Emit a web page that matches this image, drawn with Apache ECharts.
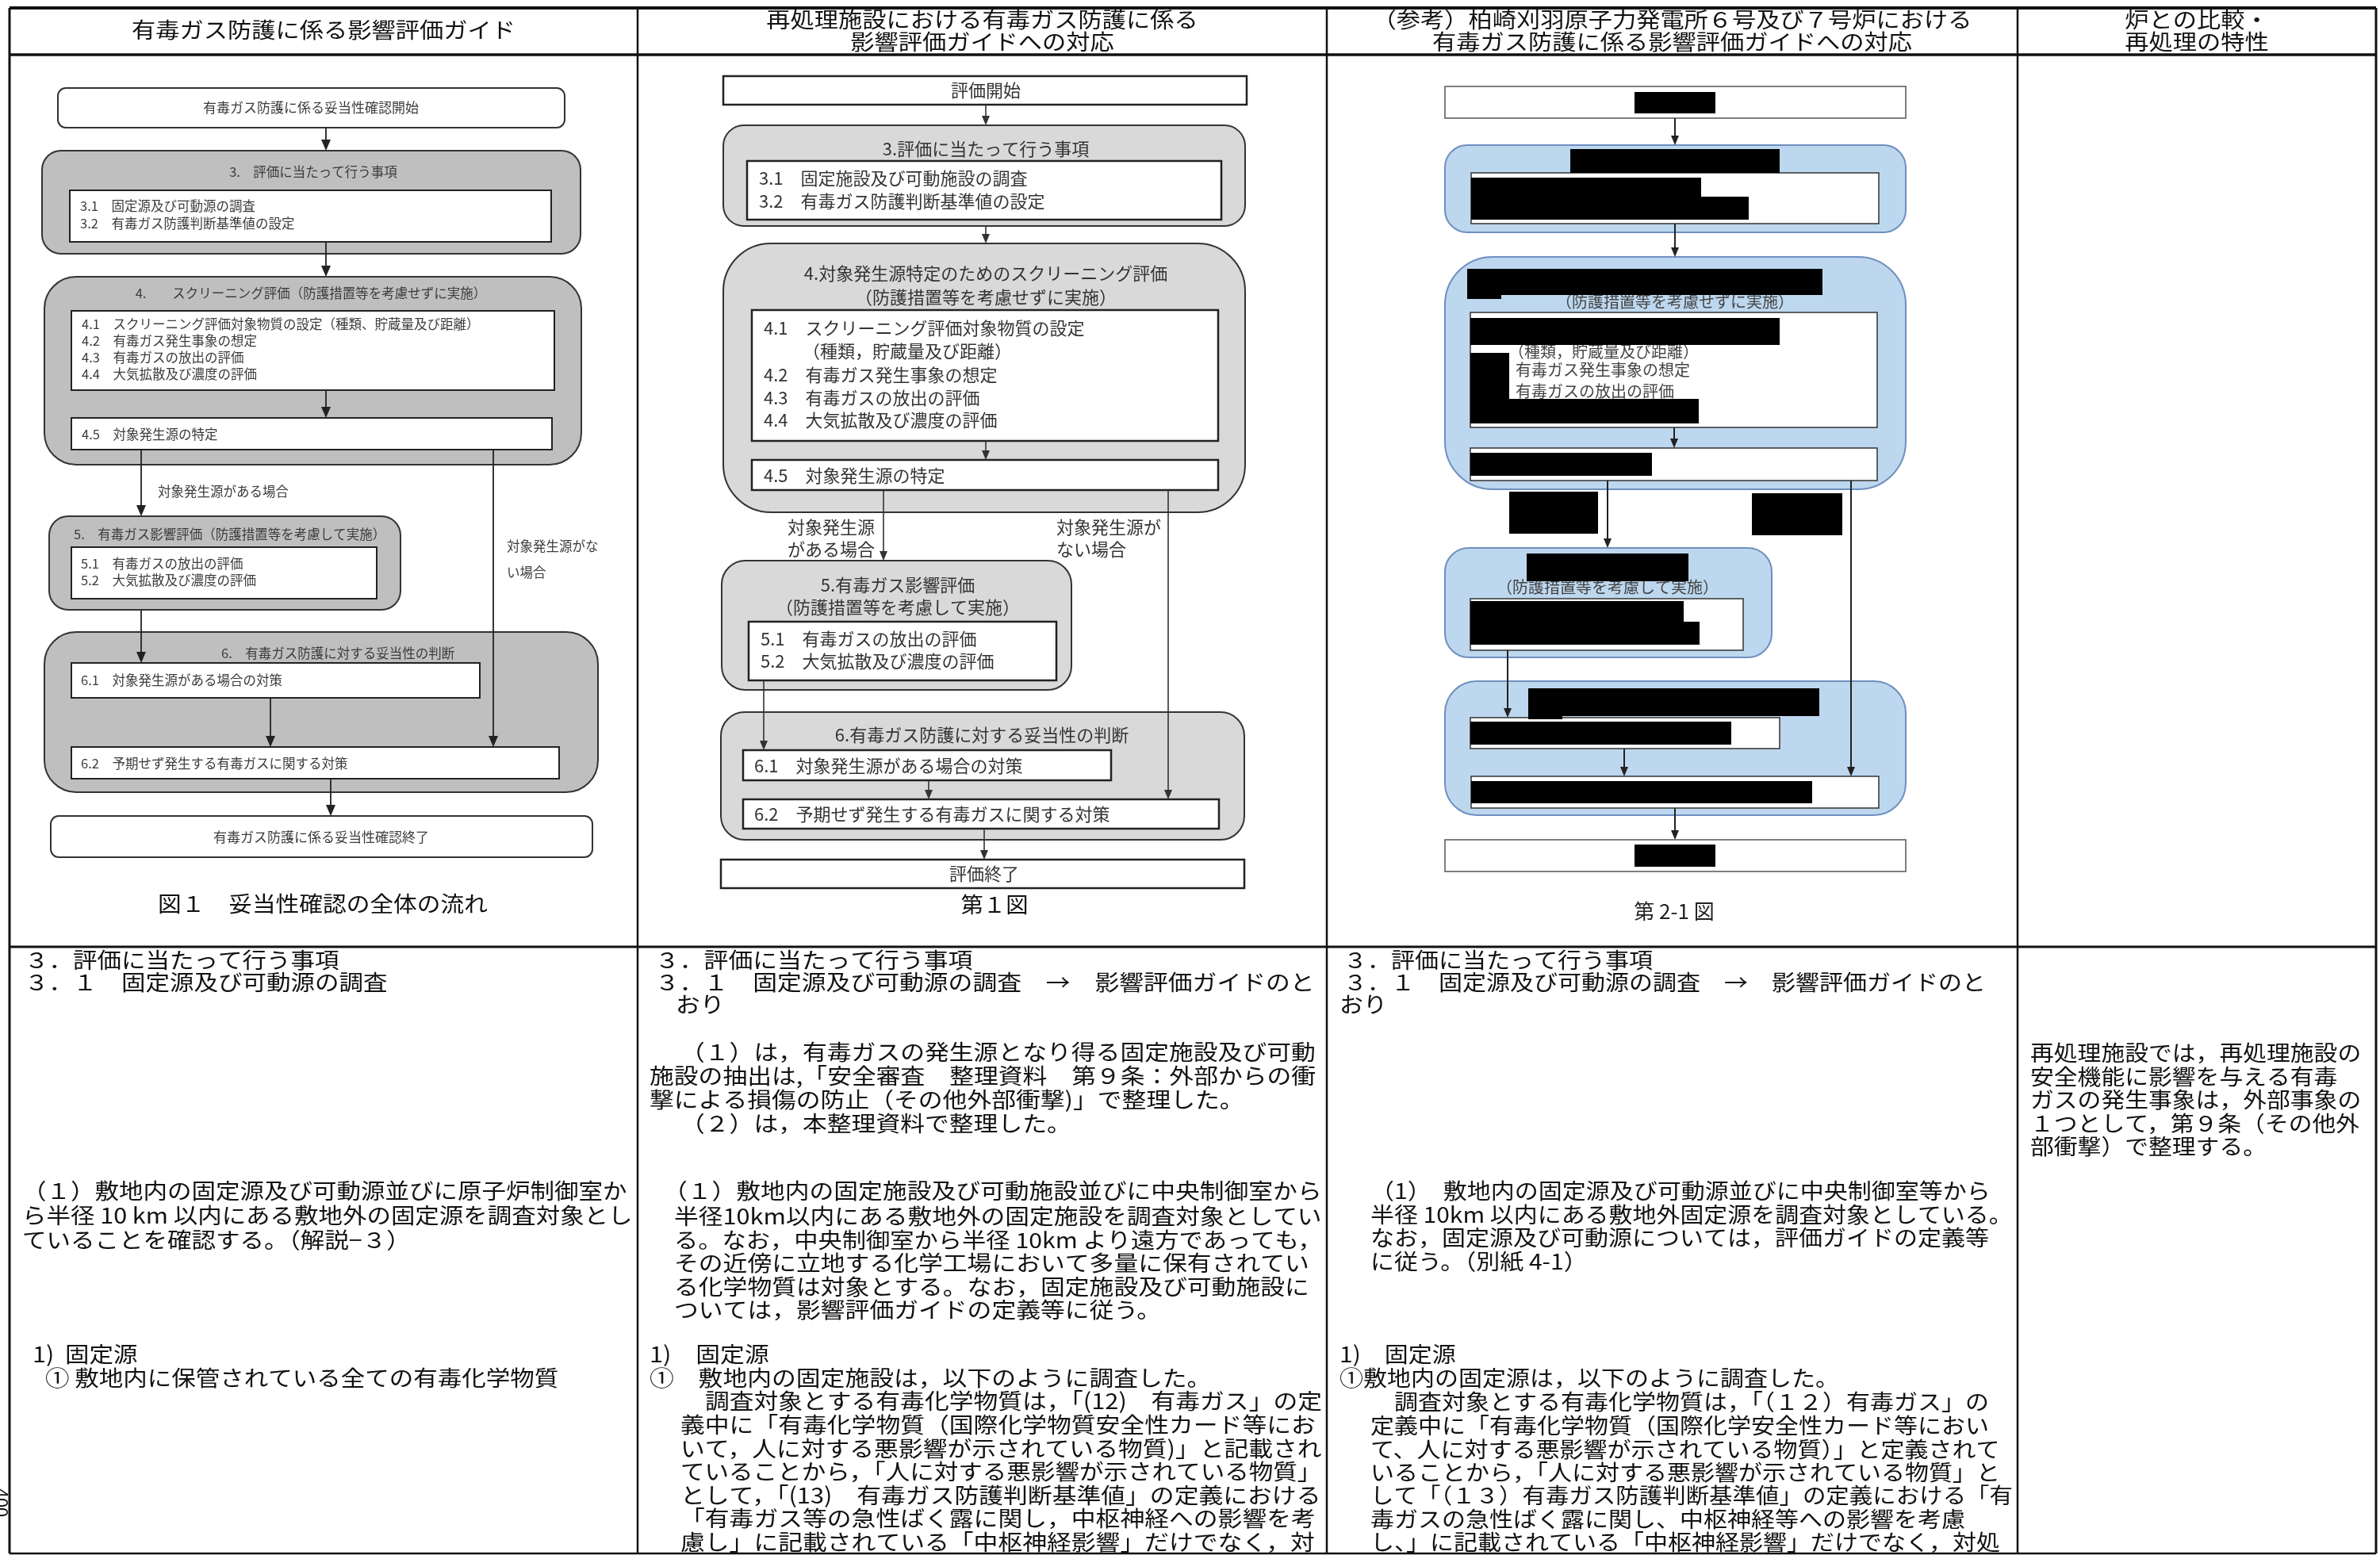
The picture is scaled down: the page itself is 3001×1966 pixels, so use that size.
<!DOCTYPE html>
<html><head><meta charset="utf-8">
<script src="https://cdn.jsdelivr.net/npm/echarts@6/dist/echarts.min.js"></script>
<style>html,body{margin:0;padding:0;background:#fff}#c{width:3001px;height:1966px}</style>
</head><body><div id="c"></div>
<script>
// ===== DATA (texts) =====
const headerTitles = [
  ['有毒ガス防護に係る影響評価ガイド'],
  ['再処理施設における有毒ガス防護に係る', '影響評価ガイドへの対応'],
  ['（参考）柏崎刈羽原子力発電所６号及び７号炉における', '有毒ガス防護に係る影響評価ガイドへの対応'],
  ['炉との比較・', '再処理の特性']
];
// Guide flow (column 1)
const gStart = '有毒ガス防護に係る妥当性確認開始';
const gSec3Title = '3.　評価に当たって行う事項';
const gSec3Items = ['3.1　固定源及び可動源の調査', '3.2　有毒ガス防護判断基準値の設定'];
const gSec4Title = '4.　　スクリーニング評価（防護措置等を考慮せずに実施）';
const gSec4Items = ['4.1　スクリーニング評価対象物質の設定（種類、貯蔵量及び距離）', '4.2　有毒ガス発生事象の想定', '4.3　有毒ガスの放出の評価', '4.4　大気拡散及び濃度の評価'];
const gSec45 = '4.5　対象発生源の特定';
const gYes = ['対象発生源がある場合'];
const gNo = ['対象発生源がな', 'い場合'];
const gSec5Title = '5.　有毒ガス影響評価（防護措置等を考慮して実施）';
const gSec5Items = ['5.1　有毒ガスの放出の評価', '5.2　大気拡散及び濃度の評価'];
const gSec6Title = '6.　有毒ガス防護に対する妥当性の判断';
const gSec61 = '6.1　対象発生源がある場合の対策';
const gSec62 = '6.2　予期せず発生する有毒ガスに関する対策';
const gEnd = '有毒ガス防護に係る妥当性確認終了';
const gCaption = '図１　妥当性確認の全体の流れ';
// Reprocessing flow (column 2)
const rStart = '評価開始';
const rSec3Title = '3.評価に当たって行う事項';
const rSec3Items = ['3.1　固定施設及び可動施設の調査', '3.2　有毒ガス防護判断基準値の設定'];
const rSec4Title = ['4.対象発生源特定のためのスクリーニング評価', '（防護措置等を考慮せずに実施）'];
const rSec4Items = ['4.1　スクリーニング評価対象物質の設定', '（種類，貯蔵量及び距離）', '4.2　有毒ガス発生事象の想定', '4.3　有毒ガスの放出の評価', '4.4　大気拡散及び濃度の評価'];
const rSec45 = '4.5　対象発生源の特定';
const rYes = ['対象発生源', 'がある場合'];
const rNo = ['対象発生源が', 'ない場合'];
const rSec5Title = ['5.有毒ガス影響評価', '（防護措置等を考慮して実施）'];
const rSec5Items = ['5.1　有毒ガスの放出の評価', '5.2　大気拡散及び濃度の評価'];
const rSec6Title = '6.有毒ガス防護に対する妥当性の判断';
const rSec61 = '6.1　対象発生源がある場合の対策';
const rSec62 = '6.2　予期せず発生する有毒ガスに関する対策';
const rEnd = '評価終了';
const rCaption = '第１図';
// Kashiwazaki flow (column 3, partly masked)
const kSec4Sub = '（防護措置等を考慮せずに実施）';
const kSec4Items = ['（種類，貯蔵量及び距離）', '有毒ガス発生事象の想定', '有毒ガスの放出の評価'];
const kSec5Sub = '（防護措置等を考慮して実施）';
const kCaption = '第 2-1 図';
// Body texts
const c1Head = ['３．評価に当たって行う事項', '３．１　固定源及び可動源の調査'];
const c1Para = ['（１）敷地内の固定源及び可動源並びに原子炉制御室か', 'ら半径 10 km 以内にある敷地外の固定源を調査対象とし', 'ていることを確認する。（解説−３）'];
const c1Fixed = ['1)  固定源'];
const c1Item = ['① 敷地内に保管されている全ての有毒化学物質'];

const c2Head = ['３．評価に当たって行う事項', '３．１　固定源及び可動源の調査　→　影響評価ガイドのと'];
const c2HeadCont = ['おり'];
const c2Note = ['（１）は，有毒ガスの発生源となり得る固定施設及び可動'];
const c2NoteCont = ['施設の抽出は,「安全審査　整理資料　第９条：外部からの衝', '撃による損傷の防止（その他外部衝撃)」で整理した。'];
const c2Note2 = ['（２）は，本整理資料で整理した。'];
const c2ParaFirst = ['（１）敷地内の固定施設及び可動施設並びに中央制御室から'];
const c2Para = ['半径10km以内にある敷地外の固定施設を調査対象としてい', 'る。なお，中央制御室から半径 10km より遠方であっても，', 'その近傍に立地する化学工場において多量に保有されてい', 'る化学物質は対象とする。なお，固定施設及び可動施設に', 'ついては，影響評価ガイドの定義等に従う。'];
const c2Fixed = ['1)　固定源', '①　敷地内の固定施設は，以下のように調査した。'];
const c2SurveyFirst = ['調査対象とする有毒化学物質は，「(12)　有毒ガス」の定'];
const c2Survey = ['義中に「有毒化学物質（国際化学物質安全性カード等にお', 'いて，人に対する悪影響が示されている物質)」と記載され', 'ていることから，「人に対する悪影響が示されている物質」', 'として，「(13)　有毒ガス防護判断基準値」の定義における', '「有毒ガス等の急性ばく露に関し，中枢神経への影響を考', '慮し」に記載されている「中枢神経影響」だけでなく，対'];

const c3Head = ['３．評価に当たって行う事項', '３．１　固定源及び可動源の調査　→　影響評価ガイドのと'];
const c3HeadCont = ['おり'];
const c3Para = ['（1）　敷地内の固定源及び可動源並びに中央制御室等から', '半径 10km 以内にある敷地外固定源を調査対象としている。', 'なお，固定源及び可動源については，評価ガイドの定義等', 'に従う。（別紙 4-1）'];
const c3Fixed = ['1)　固定源', '①敷地内の固定源は，以下のように調査した。'];
const c3SurveyFirst = ['調査対象とする有毒化学物質は，「（１２）有毒ガス」の'];
const c3Survey = ['定義中に「有毒化学物質（国際化学安全性カード等におい', 'て、人に対する悪影響が示されている物質）」と定義されて', 'いることから，「人に対する悪影響が示されている物質」と', 'して「（１３）有毒ガス防護判断基準値」の定義における「有', '毒ガスの急性ばく露に関し、中枢神経等への影響を考慮', 'し、」に記載されている「中枢神経影響」だけでなく，対処'];

const c4Para = ['再処理施設では，再処理施設の', '安全機能に影響を与える有毒', 'ガスの発生事象は，外部事象の', '１つとして，第９条（その他外', '部衝撃）で整理する。'];
const pageNo = '400';

// ===== RENDERING HELPERS =====
const FONT = '"Noto Sans CJK JP", "Noto Sans CJK SC", sans-serif';
const mctx = document.createElement('canvas').getContext('2d');
function fit(str, size, maxW, sx) {
  if (!maxW) return size;
  mctx.font = size + 'px ' + FONT;
  const w = mctx.measureText(str).width * (sx || 1);
  return w > maxW ? size * maxW / w : size;
}
const G = [];
function rect(x, y, w, h, o) {
  o = o || {};
  G.push({ type: 'rect', silent: true, z: o.z == null ? 1 : o.z,
    shape: { x: x, y: y, width: w, height: h, r: o.r || 0 },
    style: { fill: o.fill || '#fff', stroke: o.stroke === undefined ? '#222' : o.stroke, lineWidth: o.lw == null ? 2 : o.lw } });
}
function black(x, y, w, h) { rect(x, y, w, h, { fill: '#000', stroke: null, lw: 0, z: 8 }); }
function text(str, x, y, o) {
  o = o || {};
  const sx = o.sx || 1;
  const size = fit(str, o.size || 20, o.maxW, sx);
  const al = o.align || 'left';
  G.push({ type: 'text', silent: true, z: o.z == null ? 5 : o.z, x: x, y: y, rotation: o.rot || 0,
    scaleX: sx, scaleY: 1,
    style: { text: str, fontSize: size, fontFamily: FONT, fill: o.color || '#222',
      align: al, textAlign: al, verticalAlign: 'middle', textVerticalAlign: 'middle' } });
}
function lines(arr, x, y, lh, o) { arr.forEach(function (s, i) { text(s, x, y + i * lh, o); }); }
function line(x1, y1, x2, y2, o) {
  o = o || {};
  G.push({ type: 'line', silent: true, z: 4, shape: { x1: x1, y1: y1, x2: x2, y2: y2 },
    style: { stroke: o.color || '#222', lineWidth: o.lw || 2 } });
}
function arrow(x, y1, y2, o) {
  o = o || {};
  const hw = o.hw || 5, hl = o.hl || 12;
  line(x, y1, x, y2 - hl + 1, o);
  G.push({ type: 'polygon', silent: true, z: 4, shape: { points: [[x - hw, y2 - hl], [x + hw, y2 - hl], [x, y2]] },
    style: { fill: o.color || '#222' } });
}

// ===== TABLE =====
const T = { l: 12, r: 2996, t: 10, b: 1959, head: 69, row: 1194, cols: [12, 804, 1673, 2544, 2996] };
line(T.l, T.t, T.r, T.t, { lw: 4, color: '#111' });
line(T.l, T.head, T.r, T.head, { lw: 3.5, color: '#111' });
line(T.l, T.row, T.r, T.row, { lw: 3, color: '#111' });
line(T.l, T.b, T.r, T.b, { lw: 2.5, color: '#111' });
T.cols.forEach(function (cx, i) { line(cx, T.t, cx, T.b, { lw: (i === 0 || i === 4) ? 3 : 2.5, color: '#111' }); });

headerTitles.forEach(function (ls, i) {
  const cx = (T.cols[i] + T.cols[i + 1]) / 2;
  const ho = { size: 27, sx: 1.12, align: 'center', color: '#111' };
  if (ls.length === 1) text(ls[0], cx, 38, ho);
  else { text(ls[0], cx, 25, ho); text(ls[1], cx, 53, ho); }
});

// ===== COLUMN 1 FLOW =====
(function () {
  const F = { fill: '#bfbfbf', stroke: '#333', lw: 2 };
  const tc = '#3c3c3c', fs = 16.5, lc = { color: '#222', lw: 1.8, hw: 6, hl: 14 };
  rect(73, 111, 639, 50, { r: 10, stroke: '#333', lw: 2 });
  text(gStart, 392, 136, { size: 17, align: 'center', color: tc });
  arrow(411, 161, 190, lc);
  rect(53, 190, 679, 130, { r: 24, fill: F.fill, stroke: F.stroke, lw: F.lw });
  text(gSec3Title, 395, 217, { size: fs, align: 'center', color: tc });
  rect(88, 240, 607, 65, { lw: 2, z: 2 });
  lines(gSec3Items, 101, 260, 22, { size: fs, color: tc });
  arrow(411, 305, 349, lc);
  rect(56, 349, 677, 237, { r: 40, fill: F.fill, stroke: F.stroke, lw: F.lw });
  text(gSec4Title, 392, 370, { size: fs, align: 'center', color: tc });
  rect(90, 392, 609, 100, { lw: 2, z: 2 });
  lines(gSec4Items, 103, 409, 21, { size: fs, color: tc });
  arrow(411, 492, 527, lc);
  rect(90, 527, 606, 40, { lw: 2, z: 2 });
  text(gSec45, 103, 548, { size: fs, color: tc });
  arrow(178, 567, 651, lc);
  lines(gYes, 199, 620, 33, { size: fs, color: tc });
  arrow(622, 567, 942, lc);
  lines(gNo, 639, 689, 33, { size: fs, color: tc });
  rect(62, 651, 443, 118, { r: 24, fill: F.fill, stroke: F.stroke, lw: F.lw });
  text(gSec5Title, 93, 674, { size: fs, color: tc });
  rect(90, 690, 385, 65, { lw: 2, z: 2 });
  lines(gSec5Items, 102, 711, 21, { size: fs, color: tc });
  arrow(178, 769, 836, lc);
  rect(56, 797, 698, 202, { r: 40, fill: F.fill, stroke: F.stroke, lw: F.lw });
  text(gSec6Title, 279, 824, { size: fs, color: tc });
  rect(90, 836, 515, 44, { lw: 2, z: 2 });
  text(gSec61, 102, 858, { size: fs, color: tc });
  arrow(341, 880, 942, lc);
  rect(90, 942, 615, 40, { lw: 2, z: 2 });
  text(gSec62, 102, 963, { size: fs, color: tc });
  arrow(417, 982, 1029, lc);
  rect(64, 1029, 683, 52, { r: 10, stroke: '#333', lw: 2 });
  text(gEnd, 405, 1056, { size: 17, align: 'center', color: tc });
  text(gCaption, 407, 1140, { size: 27, sx: 1.1, align: 'center', color: '#111' });
})();

// ===== COLUMN 2 FLOW =====
(function () {
  const gf = '#d9d9d9', st = '#333';
  const tc = '#333', fs = 22, lc = { color: '#333', lw: 1.6, hw: 5, hl: 12 };
  rect(912, 96, 660, 36, { lw: 2.5, stroke: '#222' });
  text(rStart, 1243, 114, { size: fs, align: 'center', color: tc });
  arrow(1243, 132, 158, lc);
  rect(912, 158, 658, 127, { r: 26, fill: gf, stroke: st, lw: 2 });
  text(rSec3Title, 1243, 188, { size: fs, align: 'center', color: tc });
  rect(942, 203, 598, 74, { lw: 2.5, z: 2, stroke: '#222' });
  lines(rSec3Items, 957, 225, 29, { size: fs, color: tc });
  arrow(1243, 285, 307, lc);
  rect(912, 307, 658, 339, { r: 60, fill: gf, stroke: st, lw: 2 });
  lines(rSec4Title, 1243, 345, 30, { size: fs, align: 'center', color: tc });
  rect(948, 391, 588, 165, { lw: 2.5, z: 2, stroke: '#222' });
  text(rSec4Items[0], 963, 414, { size: fs, color: tc });
  text(rSec4Items[1], 1012, 443, { size: fs, color: tc });
  lines(rSec4Items.slice(2), 963, 473, 28.5, { size: fs, color: tc });
  arrow(1243, 556, 580, lc);
  rect(948, 580, 588, 38, { lw: 2.5, z: 2, stroke: '#222' });
  text(rSec45, 963, 600, { size: fs, color: tc });
  arrow(1114, 618, 707, lc);
  lines(rYes, 993, 665, 28, { size: fs, color: tc });
  arrow(1473, 618, 1008, lc);
  lines(rNo, 1332, 665, 28, { size: fs, color: tc });
  rect(910, 707, 441, 163, { r: 30, fill: gf, stroke: st, lw: 2 });
  lines(rSec5Title, 1132, 738, 28, { size: fs, align: 'center', color: tc });
  rect(944, 784, 388, 74, { lw: 2.5, z: 2, stroke: '#222' });
  lines(rSec5Items, 959, 806, 28, { size: fs, color: tc });
  arrow(963, 858, 946, lc);
  rect(909, 898, 660, 161, { r: 30, fill: gf, stroke: st, lw: 2 });
  text(rSec6Title, 1238, 927, { size: fs, align: 'center', color: tc });
  rect(937, 946, 464, 38, { lw: 2.5, z: 2, stroke: '#222' });
  text(rSec61, 951, 966, { size: fs, color: tc });
  arrow(1171, 984, 1008, lc);
  rect(937, 1008, 600, 37, { lw: 2.5, z: 2, stroke: '#222' });
  text(rSec62, 951, 1027, { size: fs, color: tc });
  arrow(1241, 1045, 1084, lc);
  rect(909, 1084, 660, 36, { lw: 2.5, stroke: '#222' });
  text(rEnd, 1241, 1102, { size: fs, align: 'center', color: tc });
  text(rCaption, 1254, 1141, { size: 27, sx: 1.05, align: 'center', color: '#111' });
})();

// ===== COLUMN 3 FLOW =====
(function () {
  const bf = '#bdd7ee', bs = '#6f8fc0';
  const tc = '#444', fs = 20, lc = { color: '#222', lw: 2, hw: 5, hl: 12 };
  const iw = { lw: 1.5, z: 2, stroke: '#333' };
  rect(1822, 109, 581, 40, { lw: 1.5, stroke: '#555' });
  black(2061, 116, 102, 27);
  arrow(2112, 149, 183, lc);
  rect(1822, 183, 581, 110, { r: 28, fill: bf, stroke: bs, lw: 2 });
  black(1980, 188, 264, 30);
  rect(1855, 218, 514, 64, iw);
  black(1855, 224, 290, 24); black(1855, 248, 350, 29);
  arrow(2112, 282, 324, lc);
  rect(1822, 324, 581, 293, { r: 60, fill: bf, stroke: bs, lw: 2 });
  text(kSec4Sub, 2112, 380, { size: fs, align: 'center', color: tc });
  black(1850, 339, 448, 33); black(1850, 372, 43, 5);
  rect(1854, 394, 513, 145, iw);
  text(kSec4Items[0], 1902, 443, { size: fs, color: tc });
  lines(kSec4Items.slice(1), 1911, 466, 27, { size: fs, color: tc });
  black(1854, 401, 390, 34); black(1854, 445, 49, 58); black(1854, 503, 288, 31);
  arrow(2111, 539, 565, lc);
  rect(1854, 565, 513, 41, iw);
  black(1854, 571, 229, 29);
  arrow(2027, 606, 691, lc);
  black(1903, 620, 112, 53);
  arrow(2334, 606, 979, lc);
  black(2209, 622, 114, 53);
  rect(1822, 691, 412, 138, { r: 30, fill: bf, stroke: bs, lw: 2 });
  text(kSec5Sub, 2027, 740, { size: fs, align: 'center', color: tc });
  black(1925, 698, 204, 35);
  rect(1854, 755, 344, 65, iw);
  black(1854, 758, 269, 26); black(1854, 784, 289, 29);
  arrow(1901, 820, 905, lc);
  rect(1822, 859, 581, 169, { r: 40, fill: bf, stroke: bs, lw: 2 });
  black(1927, 868, 367, 35); black(1927, 903, 43, 4);
  rect(1854, 905, 390, 39, iw);
  black(1854, 910, 329, 29);
  arrow(2048, 944, 979, lc);
  rect(1855, 979, 514, 40, iw);
  black(1855, 985, 430, 28);
  arrow(2112, 1019, 1059, lc);
  rect(1822, 1059, 581, 40, { lw: 1.5, stroke: '#555' });
  black(2061, 1065, 102, 28);
  text(kCaption, 2111, 1149, { size: 26, align: 'center', color: '#222' });
})();

// ===== BODY TEXT =====
(function () {
  const bc = '#111', BF = 27.5;
  const mk = function (right, pitch) { return function (x) { return { size: BF, sx: pitch / BF, color: bc, maxW: right - x - 6 }; }; };
  const c1 = mk(804, 30.5), c2 = mk(1673, 30.8), c3 = mk(2544, 30);
  // column 1
  lines(c1Head, 31, 1211, 28, c1(31));
  lines(c1Para, 28, 1502, 31, c1(28));
  lines(c1Fixed, 41, 1708, 30, c1(41));
  lines(c1Item, 57, 1738, 30, c1(57));
  // column 2
  lines(c2Head, 826, 1211, 28, c2(826));
  lines(c2HeadCont, 852, 1267, 30, c2(852));
  lines(c2Note, 858, 1327, 30, c2(858));
  lines(c2NoteCont, 819, 1357, 30, c2(819));
  lines(c2Note2, 858, 1417, 30, c2(858));
  lines(c2ParaFirst, 836, 1502, 30, c2(836));
  lines(c2Para, 850, 1534, 29.5, c2(850));
  lines(c2Fixed, 819, 1708, 29.5, c2(819));
  lines(c2SurveyFirst, 889, 1767, 30, c2(889));
  lines(c2Survey, 858, 1797, 29.5, c2(858));
  // column 3
  lines(c3Head, 1694, 1211, 28, c3(1694));
  lines(c3HeadCont, 1689, 1267, 30, c3(1689));
  lines(c3Para, 1728, 1502, 29.5, c3(1728));
  lines(c3Fixed, 1689, 1708, 30, c3(1689));
  lines(c3SurveyFirst, 1758, 1768, 30, c3(1758));
  lines(c3Survey, 1728, 1798, 29.4, c3(1728));
  // column 4
  lines(c4Para, 2560, 1328, 29.5, mk(2996, 29.8)(2560));
  // page number
  text(pageNo, 2, 1895, { size: 22, align: 'center', color: '#111', rot: -Math.PI / 2 });
})();

const chart = echarts.init(document.getElementById('c'), null, { renderer: 'canvas', width: 3001, height: 1966 });
chart.setOption({ backgroundColor: '#ffffff', animation: false, graphic: { elements: G } });
</script></body></html>
